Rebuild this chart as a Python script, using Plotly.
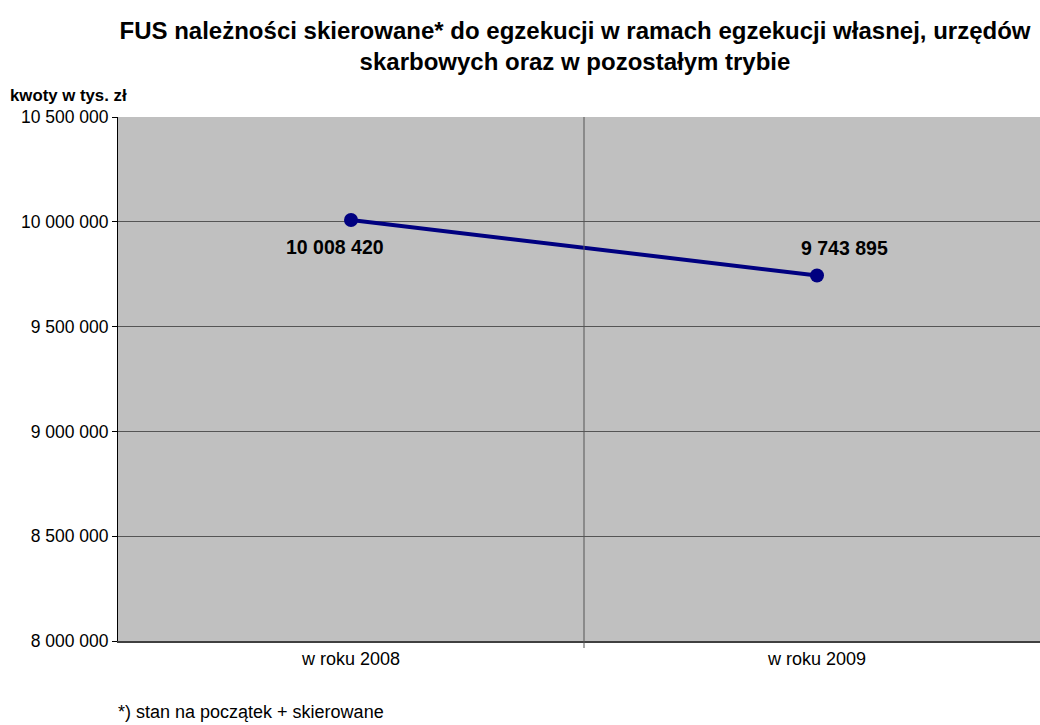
import plotly.graph_objects as go

categories = ["w roku 2008", "w roku 2009"]
values = [10008420, 9743895]
value_labels = ["10 008 420", "9 743 895"]
y_ticks = [8000000, 8500000, 9000000, 9500000, 10000000, 10500000]

x_pos = list(range(len(categories)))

fig = go.Figure()
fig.add_trace(go.Scatter(
    x=x_pos, y=values, mode="lines+markers",
    line=dict(color="#000080", width=4),
    marker=dict(color="#000080", size=14),
    hoverinfo="skip", showlegend=False, cliponaxis=False,
))

plot_h = 725 - 117 - 84
fig.add_shape(type="line", xref="x", yref="paper", x0=0.5, x1=0.5,
              y0=-7 / plot_h, y1=1, line=dict(color="#555555", width=1), layer="above")

offsets = [(-16, -27), (27, 27)]
for xi, v, t, (dx, dy) in zip(x_pos, values, value_labels, offsets):
    fig.add_annotation(x=xi, y=v, text="<b>%s</b>" % t, showarrow=False,
                       xshift=dx, yshift=dy, font=dict(size=19.5, color="black"))

fig.add_annotation(xref="paper", yref="paper", x=-110 / 922, y=1 + 22 / plot_h,
                   xanchor="left", yanchor="middle", showarrow=False,
                   text="<b>kwoty w tys. zł</b>", font=dict(size=16.8, color="black"))
fig.add_annotation(xref="paper", yref="paper", x=-2 / 922, y=-(712 - 641) / plot_h,
                   xanchor="left", yanchor="middle", showarrow=False,
                   text="*) stan na początek + skierowane", font=dict(size=18, color="black"))

fig.update_layout(
    width=1040, height=725,
    margin=dict(l=118, r=0, t=117, b=84),
    paper_bgcolor="white", plot_bgcolor="#C0C0C0",
    separators=", ",
    font=dict(family="Liberation Sans, Arial, sans-serif", size=16, color="black"),
    title=dict(text="<b>FUS należności skierowane* do egzekucji w ramach egzekucji własnej, urzędów<br>skarbowych oraz w pozostałym trybie</b>",
               x=575 / 1040, xanchor="center", y=1 - 39 / 725, yanchor="middle",
               font=dict(size=24, color="black")),
    xaxis=dict(range=[-0.5, -0.5 + 922 / 466], tickvals=x_pos, ticktext=categories,
               showgrid=False, zeroline=False, ticks="", showline=True,
               linecolor="#404040", linewidth=2, fixedrange=True,
               tickfont=dict(size=18)),
    yaxis=dict(range=[8000000, 10500000], tickvals=y_ticks, tickformat=",d",
               showgrid=True, gridcolor="#555555", gridwidth=1, zeroline=False,
               ticks="outside", ticklen=5, tickcolor="black", showline=True,
               linecolor="black", linewidth=1, fixedrange=True,
               tickfont=dict(size=17.5)),
)

fig.write_html("out.html", config={"displayModeBar": False},
               post_script="document.body.style.margin='0';document.body.style.overflow='hidden';")
